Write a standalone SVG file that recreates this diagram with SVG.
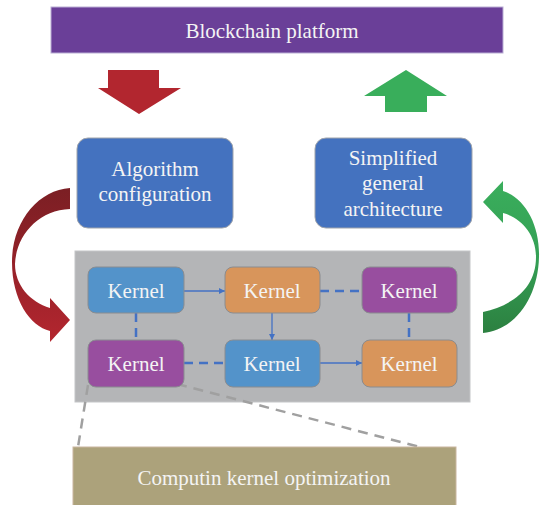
<svg xmlns="http://www.w3.org/2000/svg" width="540" height="505" viewBox="0 0 540 505">
<defs>
<linearGradient id="redg" x1="0" y1="0" x2="0" y2="1">
<stop offset="0" stop-color="#7b1f24"/>
<stop offset="0.45" stop-color="#922128"/>
<stop offset="1" stop-color="#b4262f"/>
</linearGradient>
<linearGradient id="greeng" x1="0" y1="0" x2="0" y2="1">
<stop offset="0" stop-color="#3aae5c"/>
<stop offset="0.5" stop-color="#34a055"/>
<stop offset="1" stop-color="#2c8040"/>
</linearGradient>
<marker id="ah" viewBox="0 0 10 10" refX="10" refY="5" markerWidth="6" markerHeight="6" markerUnits="userSpaceOnUse" orient="auto">
<path d="M0,0 L10,5 L0,10 Z" fill="#4472c4"/>
</marker>
</defs>
<style>
.t{font-family:"Liberation Serif","Times New Roman",serif;fill:#f4f4f4;text-anchor:middle;font-size:21px}
.box{fill:#4472bf;stroke:#a0a4ab;stroke-width:1}
.k{stroke:#8a8c90;stroke-width:1}
.kb{fill:#5393ca}
.ko{fill:#d8955b}
.kp{fill:#984e9f}
.solid{stroke:#4472c4;stroke-width:1.3;fill:none}
.dash{stroke:#4472c4;stroke-width:2.5;stroke-dasharray:9,6;fill:none}
.gdash{stroke:#a0a0a0;stroke-width:2.5;stroke-dasharray:10,7;fill:none}
</style>
<rect width="540" height="505" fill="#ffffff"/>

<g id="platform">
<rect x="51" y="7" width="452" height="46" fill="#6a3f98" stroke="#b9aed4" stroke-width="1"/>
<text class="t" x="272" y="38">Blockchain platform</text>
</g>

<g id="down-arrow">
<path d="M108,70 L159,70 L159,88 L181,88 L139,114 L98,88 L108,88 Z" fill="#b2262f"/>
</g>
<g id="up-arrow">
<path d="M406,70 L447,96 L427,96 L427,112 L385,112 L385,96 L364,96 Z" fill="#39ae5b"/>
</g>

<g id="algorithm">
<rect class="box" x="77" y="138" width="156" height="90" rx="11"/>
<text class="t" x="155" y="176">Algorithm</text>
<text class="t" x="155" y="201">configuration</text>
</g>

<g id="architecture">
<rect class="box" x="315" y="138" width="157" height="90" rx="11"/>
<text class="t" x="393" y="165">Simplified</text>
<text class="t" x="393" y="190">general</text>
<text class="t" x="393" y="216">architecture</text>
</g>

<g id="red-curve">
<path d="M70,188 C38,190 12,222 12,262 C12,300 30,326 50,331 L50,342 L70,320 L50,298 L50,308 C30,302 15,285 15,264 C16,236 38,210 70,209 Z" fill="url(#redg)"/>
</g>
<g id="green-curve">
<path d="M503,191 C525,198 540,225 539,257 C538,298 515,330 483,333 L483,312 C510,306 536,290 536,257 C536,235 522,218 503,213 L503,223 L483,202 L503,181 Z" fill="url(#greeng)"/>
</g>

<g id="panel">
<rect x="75" y="251" width="395" height="151" fill="#b4b5b7" stroke="#c4c5c7" stroke-width="1"/>
</g>

<g id="connectors">
<line class="solid" x1="184" y1="291" x2="225" y2="291" marker-end="url(#ah)"/>
<line class="dash" x1="320" y1="291" x2="362" y2="291"/>
<line class="dash" x1="136" y1="313" x2="136" y2="340"/>
<line class="solid" x1="272" y1="313" x2="272" y2="340" marker-end="url(#ah)"/>
<line class="dash" x1="409" y1="313" x2="409" y2="340"/>
<line class="dash" x1="184" y1="363" x2="225" y2="363"/>
<line class="solid" x1="320" y1="363" x2="362" y2="363" marker-end="url(#ah)"/>
<line class="gdash" x1="88" y1="385" x2="78" y2="447"/>
<line class="gdash" x1="177" y1="384" x2="420" y2="447"/>
</g>

<g id="kernel1">
<rect class="k kb" x="88" y="267" width="96" height="46" rx="8"/>
<text class="t" x="136" y="298">Kernel</text>
</g>
<g id="kernel2">
<rect class="k ko" x="225" y="267" width="95" height="46" rx="8"/>
<text class="t" x="272" y="298">Kernel</text>
</g>
<g id="kernel3">
<rect class="k kp" x="362" y="267" width="95" height="46" rx="8"/>
<text class="t" x="409" y="298">Kernel</text>
</g>
<g id="kernel4">
<rect class="k kp" x="88" y="340" width="96" height="47" rx="8"/>
<text class="t" x="136" y="371">Kernel</text>
</g>
<g id="kernel5">
<rect class="k kb" x="225" y="340" width="95" height="47" rx="8"/>
<text class="t" x="272" y="371">Kernel</text>
</g>
<g id="kernel6">
<rect class="k ko" x="362" y="340" width="95" height="47" rx="8"/>
<text class="t" x="409" y="371">Kernel</text>
</g>

<g id="optimization">
<rect x="73" y="447" width="383" height="60" fill="#aca27b" stroke="#c9b6a0" stroke-width="1"/>
<text class="t" x="264" y="485">Computin kernel optimization</text>
</g>
</svg>
